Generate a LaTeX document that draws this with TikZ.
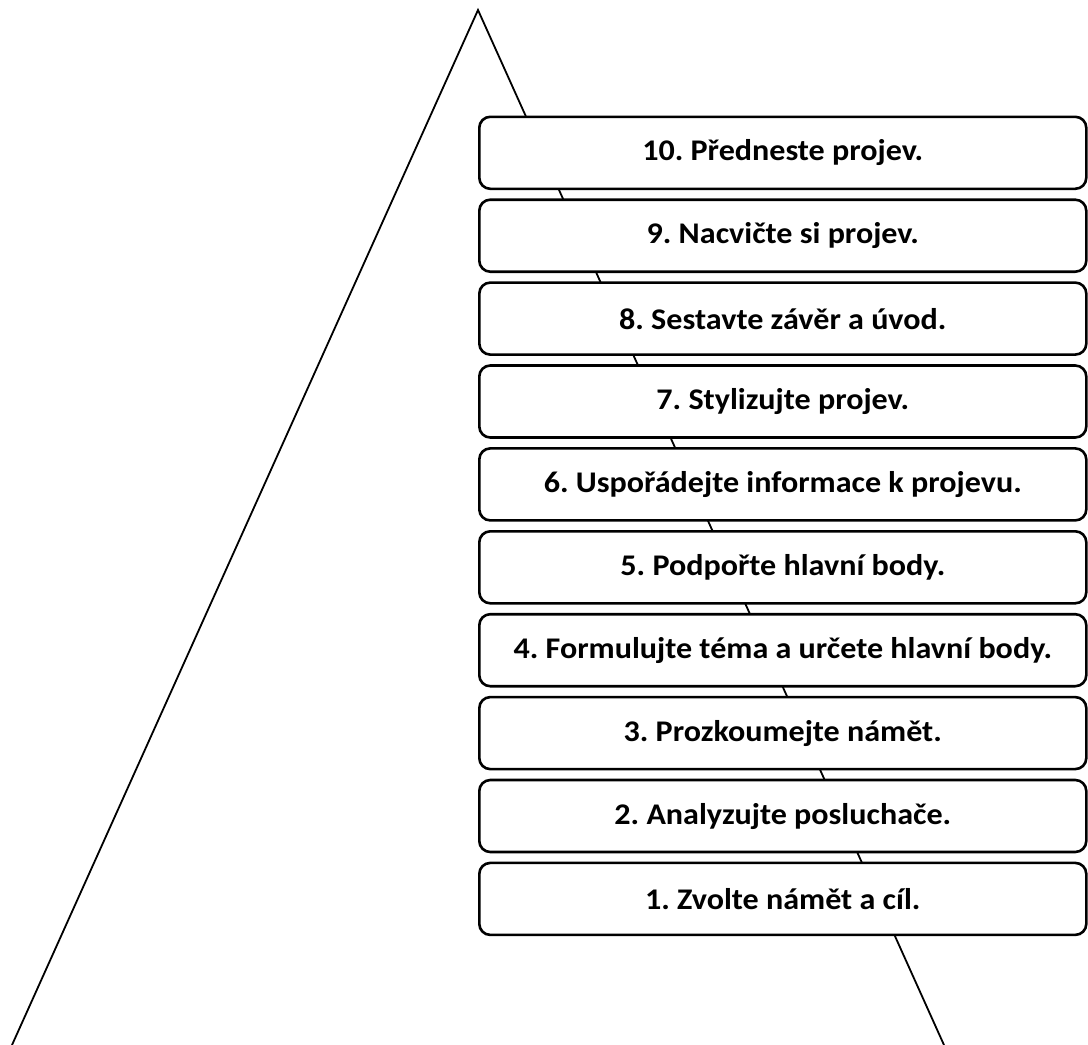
\documentclass[tikz,border=0pt]{standalone}
\usepackage{fontspec}
\setmainfont[FakeStretch=1.07]{Carlito}
\frenchspacing
\begin{document}
\begin{tikzpicture}[x=1pt,y=-1pt,
  stepbox/.style={draw=black,line width=2.6pt,fill=white,rounded corners=11pt,
    minimum width=607pt,minimum height=72pt,inner sep=0pt,anchor=north west,
    font=\fontsize{30}{35}\selectfont\bfseries},
  tri/.style={draw=black,line width=1.8pt,line join=miter}]
\useasboundingbox (0,0) rectangle (1088,1045);
\coordinate (apex) at (478,10);
\coordinate (bl) at (12,1045);
\coordinate (br) at (944,1045);
\draw[tri] (bl) -- (apex) -- (br);
\node[stepbox] (s10) at (478,115.5) {10. Předneste projev.};
\node[stepbox] (s9) at (478,198.4) {9. Nacvičte si projev.};
\node[stepbox] (s8) at (478,281.3) {8. Sestavte závěr a úvod.};
\node[stepbox] (s7) at (478,364.2) {7. Stylizujte projev.};
\node[stepbox] (s6) at (478,447.1) {6. Uspořádejte informace k projevu.};
\node[stepbox] (s5) at (478,530.0) {5. Podpořte hlavní body.};
\node[stepbox] (s4) at (478,612.9) {4. Formulujte téma a určete hlavní body.};
\node[stepbox] (s3) at (478,695.8) {3. Prozkoumejte námět.};
\node[stepbox] (s2) at (478,778.7) {2. Analyzujte posluchače.};
\node[stepbox] (s1) at (478,861.6) {1. Zvolte námět a cíl.};
\end{tikzpicture}
\end{document}
